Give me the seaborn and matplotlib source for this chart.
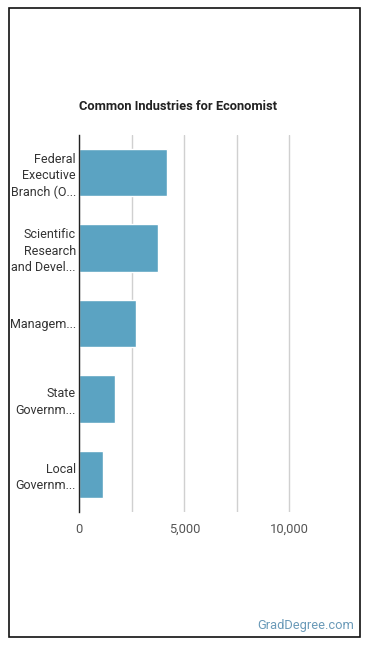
import matplotlib
matplotlib.use("Agg")
import matplotlib.pyplot as plt
import pandas as pd
import seaborn as sns
from matplotlib.patches import Rectangle

industries = ["Federal\nExecutive\nBranch (O...", "Scientific\nResearch\nand Devel...",
              "Managem...", "State\nGovernm...", "Local\nGovernm..."]
employees = [4190, 3760, 2710, 1710, 1140]
tick_values = [0, 2500, 5000, 7500, 10000]
tick_labels = ["0", "", "5,000", "", "10,000"]

df = pd.DataFrame({"industry": industries, "employees": employees})

sns.set_style("white")
plt.rcParams["font.family"] = ["Roboto", "DejaVu Sans"]

fig = plt.figure(figsize=(3.7, 6.48), dpi=100)
ax = fig.add_axes([79.3 / 370, 1 - 512 / 648, (341.8 - 79.3) / 370, (512 - 135) / 648])

sns.barplot(data=df, x="employees", y="industry", color="#5ba3c2", width=0.63,
            saturation=1, ax=ax)

ax.set_xlim(0, 12500)
ax.set_ylim(4.5, -0.5)
ax.set_xticks(tick_values)
ax.set_xticklabels(tick_labels, fontsize=9.3, color="#555555")
ax.tick_params(axis="y", labelsize=9, labelcolor="#333333", length=0, pad=2.5)
for lbl in ax.get_yticklabels():
    lbl.set_linespacing(1.35)
ax.tick_params(axis="x", length=0, pad=8)
ax.grid(axis="x", color="#d0d0d0", linewidth=1)
ax.set_axisbelow(True)
for side in ["top", "right", "bottom"]:
    ax.spines[side].set_visible(False)
ax.spines["left"].set_color("#222222")
ax.spines["left"].set_linewidth(1)
ax.set_xlabel("")
ax.set_ylabel("")

fig.text(178 / 370, 1 - 107 / 648, "Common Industries for Economist", ha="center", va="center",
         fontsize=9.3, fontweight="bold", color="#222222")
fig.text(354 / 370, 1 - 626 / 648, "GradDegree.com", ha="right", va="center",
         fontsize=9.3, color="#6a9ab8")

fig.patches.append(Rectangle((8.5 / 370, 1 - 637 / 648), 351 / 370, 629 / 648,
                             transform=fig.transFigure, fill=False,
                             edgecolor="#111111", linewidth=1.2))

fig.savefig("out.png", dpi=100)
